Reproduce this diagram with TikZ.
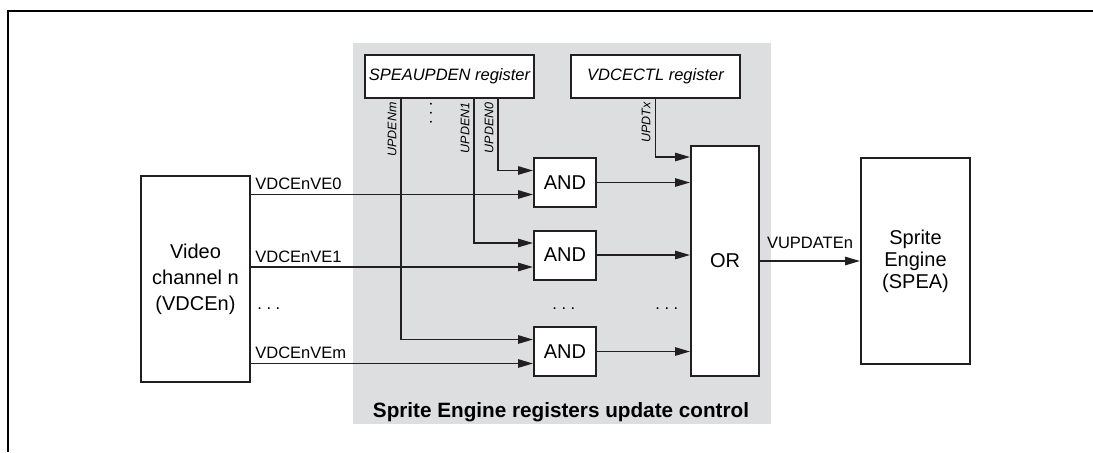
\documentclass[tikz,border=0pt]{standalone}
\usepackage{fontspec}
\setmainfont{Liberation Sans}
\usetikzlibrary{arrows.meta}

\definecolor{panelgray}{RGB}{221,222,224}
\definecolor{ink}{RGB}{35,31,32}

\begin{document}
\begin{tikzpicture}[x=0.5pt, y=-0.5pt,
  block/.style={draw=ink, line width=1pt, fill=white, inner sep=0pt, align=center},
  gate/.style={block, minimum width=31pt, minimum height=24.5pt, font=\fontsize{10}{12}\selectfont},
  reg/.style={block, minimum width=84.5pt, minimum height=21.5pt, font=\fontsize{8.25}{10}\selectfont\itshape},
  wire/.style={draw=ink, line width=0.8pt, -{Triangle[length=7.5pt,width=4.2pt]}},
  sig/.style={font=\fontsize{8.25}{10}\selectfont, inner sep=2pt},
  bit/.style={font=\fontsize{6.25}{7.5}\selectfont\itshape, rotate=90, anchor=south east, inner sep=1pt},
  dots/.style={font=\fontsize{8.25}{10}\selectfont, inner sep=0pt}]
  \useasboundingbox (0,0) rectangle (1093,452);

  % Frame
  \draw[line width=1pt] (1093,11) -- (8,11) -- (8,452);

  % Register update control panel
  \fill[panelgray] (353,43) rectangle (771,424);
  \node[font=\fontsize{10.35}{12}\selectfont\bfseries, anchor=base] (title) at (561,417) {Sprite Engine registers update control};

  % Blocks
  \node[block, minimum width=54.5pt, minimum height=103pt, font=\fontsize{10}{13}\selectfont] (video) at (195.5,279) {Video\\channel n\\(VDCEn)};
  \node[block, minimum width=54.5pt, minimum height=103pt, font=\fontsize{10}{11}\selectfont] (spea) at (915.5,261) {Sprite\\Engine\\(SPEA)};
  \node[reg] (updenreg) at (449.5,76.5) {SPEAUPDEN register};
  \node[reg] (ctlreg) at (655.5,76.5) {VDCECTL register};
  \node[block, minimum width=34pt, minimum height=115pt, font=\fontsize{10}{12}\selectfont] (orgate) at (725,261) {OR};

  % AND gates with their inputs
  \foreach \n/\y/\vx/\vlabel in {0/182.5/498/VDCEnVE0, 1/255/474/VDCEnVE1, m/351.5/401/VDCEnVEm} {
    \node[gate] (and\n) at (565,\y) {AND};
    \coordinate (en\n) at ([yshift=6pt]and\n.west);
    \coordinate (ve\n) at ([yshift=-6pt]and\n.west);
    \draw[wire] (updenreg.south -| \vx,0) |- (en\n);
    \node[bit] (bit\n) at (\vx-2,100) {UPDEN\n};
    \draw[wire] (video.east |- ve\n) -- (ve\n);
    \node[sig, anchor=south west] (sig\n) at (video.east |- ve\n) {\vlabel};
    \draw[wire] (and\n.east) -- (orgate.west |- and\n.east);
  }

  % Update trigger
  \coordinate (ctlin) at ([yshift=-6pt]orgate.north west);
  \draw[wire] (ctlreg.south) |- (ctlin);
  \node[bit] (bitx) at (653,100) {UPDTx};

  % Output
  \draw[wire] (orgate.east) -- (spea.west) node[sig, midway, above=4pt] (vupd) {VUPDATEn};

  % Dots
  \node[dots, rotate=90] (vdots) at (431,113) {.\ .\ .};
  \node[dots, anchor=base west] (dotsa) at (257,309) {.\ .\ .};
  \node[dots, anchor=base west] (dotsb) at (552,309) {.\ .\ .};
  \node[dots, anchor=base west] (dotsc) at (655,309) {.\ .\ .};
\end{tikzpicture}
\end{document}
